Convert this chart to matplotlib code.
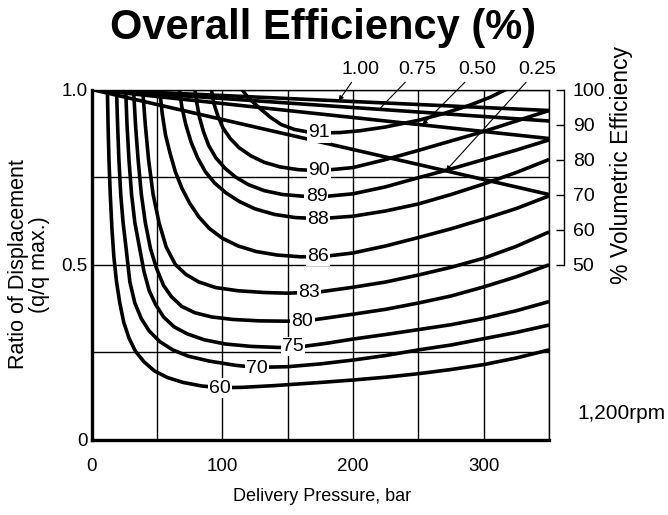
import numpy as np
import matplotlib
matplotlib.use("Agg")
import matplotlib.pyplot as plt

plt.rcParams['font.family'] = ['Liberation Sans', 'DejaVu Sans']

# overall efficiency contours (pressure bar, q/q max)
eff_levels = [91, 90, 89, 88, 86, 83, 80, 75, 70, 60]

p91 = [115, 119, 124, 130, 137, 145, 155, 165, 176, 190, 205, 225, 250, 270, 290, 305, 317]
r91 = [1.0, 0.98, 0.962, 0.942, 0.92, 0.9, 0.886, 0.879, 0.876, 0.877, 0.882, 0.893, 0.912,
       0.932, 0.956, 0.978, 1.0]
p90 = [91.6, 93.5, 96.5, 100.5, 106, 113, 122, 132, 144, 158, 175, 200, 225, 250, 275, 300,
       325, 350]
r90 = [1.0, 0.96, 0.925, 0.89, 0.86, 0.833, 0.81, 0.792, 0.779, 0.771, 0.768, 0.777, 0.8,
       0.826, 0.853, 0.88, 0.91, 0.94]
p89 = [79, 80.5, 82.5, 85.5, 89.5, 95, 102, 110, 120, 132, 146, 162, 180, 200, 225, 250, 275,
       300, 325, 350]
r89 = [1.0, 0.96, 0.92, 0.88, 0.84, 0.805, 0.775, 0.75, 0.728, 0.711, 0.7, 0.695, 0.695, 0.702,
       0.722, 0.748, 0.773, 0.8, 0.827, 0.856]
p88 = [67, 69, 72, 76, 81, 87, 94, 103, 113, 125, 140, 156, 175, 200, 225, 250, 275, 300, 325,
       350]
r88 = [1.0, 0.95, 0.9, 0.85, 0.805, 0.765, 0.733, 0.704, 0.68, 0.659, 0.643, 0.634, 0.631,
       0.638, 0.653, 0.673, 0.7, 0.73, 0.763, 0.8]
p86 = [52, 54, 56.5, 59.8, 64, 69, 75, 82, 90, 100, 112, 126, 142, 160, 180, 200, 225, 250,
       275, 300, 325, 350]
r86 = [1.0, 0.93, 0.87, 0.82, 0.765, 0.718, 0.675, 0.636, 0.603, 0.575, 0.553, 0.537, 0.527,
       0.522, 0.524, 0.533, 0.553, 0.577, 0.602, 0.63, 0.66, 0.696]
p83 = [39, 41, 43.5, 47, 51.5, 57, 64, 72, 82, 95, 112, 132, 150, 175, 200, 225, 250, 275, 300,
       325, 350]
r83 = [1.0, 0.9, 0.8, 0.7, 0.62, 0.55, 0.5, 0.472, 0.45, 0.434, 0.425, 0.42, 0.418, 0.422,
       0.435, 0.45, 0.47, 0.492, 0.518, 0.552, 0.593]
p80 = [32, 33.5, 35.5, 38, 41, 45, 49.5, 55, 61, 69, 79, 92, 108, 128, 150, 170, 200, 225, 250,
       275, 300, 325, 350]
r80 = [1.0, 0.9, 0.8, 0.7, 0.62, 0.545, 0.49, 0.44, 0.408, 0.38, 0.362, 0.35, 0.343, 0.339,
       0.338, 0.342, 0.358, 0.372, 0.39, 0.41, 0.436, 0.465, 0.499]
p75 = [26, 27, 28.5, 30.5, 33, 36.5, 40, 44, 49, 55, 63, 73, 86, 102, 122, 143, 160, 180, 200,
       225, 250, 275, 300, 325, 350]
r75 = [1.0, 0.9, 0.8, 0.7, 0.62, 0.55, 0.48, 0.425, 0.385, 0.35, 0.322, 0.302, 0.285, 0.273,
       0.266, 0.263, 0.265, 0.275, 0.287, 0.3, 0.314, 0.328, 0.346, 0.368, 0.394]
p70 = [19, 19.8, 20.8, 22.2, 24, 26.5, 29.2, 33, 38, 44, 52, 62, 74, 90, 110, 126, 150, 175,
       200, 225, 250, 275, 300, 325, 350]
r70 = [1.0, 0.9, 0.8, 0.7, 0.62, 0.54, 0.45, 0.39, 0.345, 0.31, 0.28, 0.256, 0.238, 0.224,
       0.212, 0.206, 0.208, 0.216, 0.227, 0.24, 0.256, 0.27, 0.288, 0.306, 0.327]
p60 = [12, 12.5, 13.2, 14.2, 15.5, 17, 19, 21.5, 24.5, 28.5, 33.5, 40, 48, 58, 70, 84, 98, 115,
       140, 175, 200, 225, 250, 275, 300, 325, 350]
r60 = [1.0, 0.9, 0.8, 0.7, 0.6, 0.52, 0.45, 0.39, 0.335, 0.29, 0.252, 0.222, 0.196, 0.177,
       0.163, 0.153, 0.148, 0.149, 0.154, 0.163, 0.17, 0.178, 0.188, 0.2, 0.214, 0.233, 0.256]

eff_p = [p91, p90, p89, p88, p86, p83, p80, p75, p70, p60]
eff_r = [r91, r90, r89, r88, r86, r83, r80, r75, r70, r60]

# volumetric efficiency lines (%) for each displacement ratio
vol_names = ["1.00", "0.75", "0.50", "0.25"]
vol_p = [0, 350]
vol_start = 100
vol_end = [94, 91, 86, 70]

# where the contour numbers sit (layout)
lab_pos = [(174, 0.876), (174, 0.768), (172, 0.694), (173, 0.63), (173, 0.522),
           (166.6, 0.419), (161.3, 0.337), (153.7, 0.265), (126.2, 0.204), (98, 0.147)]

fig = plt.figure(figsize=(6.68, 5.15), dpi=100)
ax = fig.add_axes([0.1373, 0.1466, 0.6846, 0.6796])
ax2 = ax.twinx()

ax.set_xlim(0, 350)
ax.set_ylim(0, 1.0)
ax2.set_ylim(0, 100)

ax.set_xticks(np.arange(0, 351, 50))
ax.set_xticklabels(["0", "", "100", "", "200", "", "300", ""])
ax.set_yticks([0, 0.25, 0.5, 0.75, 1.0])
ax.set_yticklabels(["0", "", "0.5", "", "1.0"])
ax.tick_params(length=0, labelsize=13.5)
ax.tick_params(axis="x", pad=13)
ax.tick_params(axis="y", pad=3)
ax.grid(True, color="black", lw=1.0)
ax.set_axisbelow(True)

for side in ["left", "bottom"]:
    ax.spines[side].set_linewidth(2.4)
for side in ["top", "right"]:
    ax.spines[side].set_linewidth(1.0)

ax2.spines["right"].set_position(("outward", 11))
ax2.spines["right"].set_bounds(50, 100)
ax2.spines["right"].set_linewidth(1.0)
for side in ["left", "top", "bottom"]:
    ax2.spines[side].set_visible(False)
ax2.set_yticks(np.arange(50, 101, 10))
ax2.tick_params(axis="y", direction="in", length=6, width=1, labelsize=14, pad=6)

for pp, rr in zip(eff_p, eff_r):
    ax.plot(pp, rr, color="black", lw=2.6, solid_capstyle="butt", zorder=3)

for v in vol_end:
    ax.plot(vol_p, [vol_start, v], color="black", lw=2.6, zorder=3,
            transform=ax2.transData)

for lvl, (lx, ly) in zip(eff_levels, lab_pos):
    ax.text(lx, ly, str(lvl), fontsize=14, ha="center", va="center", zorder=5,
            bbox=dict(boxstyle="square,pad=0.06", fc="white", ec="none"))

# pointers from the ratio labels to the volumetric lines
tip_p = [189, 220, 253, 271]
text_xy = [(205.5, 1.056), (249, 1.056), (295, 1.056), (341, 1.056)]
heads = ["-|>", "-", "-|>", "-|>"]
for name, v, tp, (tx, ty), hs in zip(vol_names, vol_end, tip_p, text_xy, heads):
    tv = np.interp(tp, vol_p, [vol_start, v])
    tip = ax.transData.inverted().transform(ax2.transData.transform((tp, tv)))
    ax.annotate(name, xy=tip, xytext=(tx, ty), fontsize=14, ha="center", va="center",
                annotation_clip=False,
                arrowprops=dict(arrowstyle=hs, color="black", lw=0.8,
                                mutation_scale=7, shrinkA=1, shrinkB=0))

fig.text(0.043, 0.487, "Ratio of Displacement\n(q/q max.)", rotation=90, fontsize=15.5,
         ha="center", va="center", multialignment="center", linespacing=1.0)
fig.text(0.482, 0.035, "Delivery Pressure, bar", fontsize=13, ha="center", va="center")
fig.text(0.931, 0.68, "% Volumetric Efficiency", rotation=90, fontsize=16.5,
         ha="center", va="center")
fig.text(0.93, 0.198, "1,200rpm", fontsize=15, ha="center", va="center")
fig.text(0.483, 0.946, "Overall Efficiency (%)", fontsize=30, fontweight="bold",
         ha="center", va="center")

fig.savefig("out.png", dpi=100)
